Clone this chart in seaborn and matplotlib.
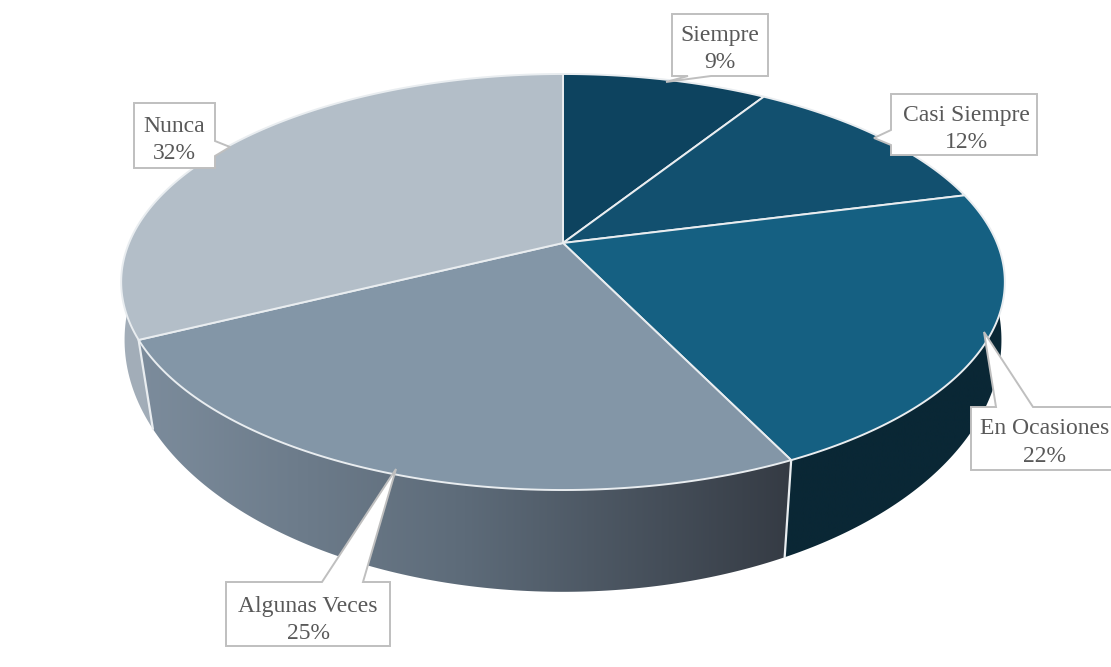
import matplotlib
matplotlib.use("Agg")
import matplotlib.pyplot as plt
from matplotlib.patches import Polygon
import numpy as np
import seaborn as sns

# chart data, clockwise from 12 o'clock
categories = ["Siempre", "Casi Siempre", "En Ocasiones", "Algunas Veces", "Nunca"]
values = [9.0, 12.0, 21.8, 24.9, 32.3]

top_colors = ["#0d435f", "#12506f", "#156082", "#8396a7", "#b3bec8"]
# wall gradients, left to right
wall_colors = [
    ["#0a2735", "#0a2735"],
    ["#0a2735", "#0a2735"],
    ["#0a2735", "#0a2735"],
    ["#7c8c9c", "#5d6b79", "#353b44"],
    ["#a3aeb9", "#8f9ba7"],
]

# callout layout: box (x0, x1, y0, y1), pointer tip, pointer base, text centre x and baselines
callouts = {
    "Siempre": dict(box=(672, 768, 14, 76), tip=(666, 82), base=[(711, 76), (688, 76)],
                    side="bottom", text=(720, 41, 68)),
    "Casi Siempre": dict(box=(891, 1037, 94, 155), tip=(874, 138), base=[(891, 130), (891, 145)],
                         side="left", text=(966, 121, 148)),
    "En Ocasiones": dict(box=(971, 1113, 407, 470), tip=(984, 332), base=[(996, 407), (1033, 407)],
                         side="top", text=(1045, 434, 462)),
    "Algunas Veces": dict(box=(226, 390, 582, 646), tip=(396, 469), base=[(322, 582), (363, 582)],
                          side="top", text=(308, 612, 639)),
    "Nunca": dict(box=(134, 215, 103, 168), tip=(230, 147), base=[(215, 141), (215, 156)],
                  side="right", text=(174, 132, 159)),
}

sns.set_theme(style="white")
plt.rcParams['font.family'] = ['Liberation Serif', 'DejaVu Serif']

# perspective of the pie disc
CX, CY = 563, 243


def top_ring(theta):
    w = 1 + 0.1875 * np.cos(theta)
    return CX + 434 * np.sin(theta) / w, CY - 200.7 * np.cos(theta) / w


def low_ring(theta):
    t = theta - np.radians(1)
    w = 1 + 0.125 * np.cos(t)
    return CX + 435 * np.sin(t) / w, 308.4 - 248 * np.cos(t) / w


fig = plt.figure(figsize=(11.11, 6.67), dpi=100)
ax = fig.add_axes([0, 0, 1, 1])

edges = np.radians(np.cumsum([0] + values) * 3.6)
line_col = "#e9edf0"

# side walls first, the top face covers the hidden back part
for i in range(len(values)):
    t = np.linspace(edges[i], edges[i + 1], 120)
    x1, y1 = top_ring(t)
    x2, y2 = low_ring(t)
    pts = np.column_stack([np.r_[x1, x2[::-1]], np.r_[y1, y2[::-1]]])
    cmap = sns.blend_palette(wall_colors[i], as_cmap=True)
    grad = np.linspace(0, 1, 256).reshape(1, -1)
    im = ax.imshow(grad, cmap=cmap, aspect="auto", interpolation="bilinear",
                   extent=[pts[:, 0].min(), pts[:, 0].max(), pts[:, 1].max(), pts[:, 1].min()])
    clip = Polygon(pts, closed=True, transform=ax.transData)
    im.set_clip_path(clip)

# white seams between the walls
for e in edges[3:5]:
    x1, y1 = top_ring(e)
    x2, y2 = low_ring(e)
    ax.plot([x1, x2], [y1, y2], color=line_col, lw=1.6, zorder=3)

# top face
for i in range(len(values)):
    t = np.linspace(edges[i], edges[i + 1], 120)
    x, y = top_ring(t)
    pts = np.column_stack([np.r_[CX, x], np.r_[CY, y]])
    ax.add_patch(Polygon(pts, closed=True, facecolor=top_colors[i], edgecolor=line_col,
                         lw=1.4, joinstyle="round", zorder=4))

# callout labels
for name, val in zip(categories, values):
    c = callouts[name]
    x0, x1, y0, y1 = c["box"]
    b = c["base"]
    if c["side"] == "bottom":
        outline = [(x0, y0), (x1, y0), (x1, y1), b[0], c["tip"], b[1], (x0, y1)]
    elif c["side"] == "left":
        outline = [(x0, y0), (x1, y0), (x1, y1), (x0, y1), b[1], c["tip"], b[0]]
    elif c["side"] == "top":
        outline = [(x0, y0), b[0], c["tip"], b[1], (x1, y0), (x1, y1), (x0, y1)]
    else:
        outline = [(x0, y0), (x1, y0), b[0], c["tip"], b[1], (x1, y1), (x0, y1)]
    ax.add_patch(Polygon(outline, closed=True, facecolor="white", edgecolor="#bfbfbf",
                         lw=1.4, zorder=5, clip_on=True))
    tx, ty1, ty2 = c["text"]
    ax.text(tx, ty1, name, ha="center", va="baseline", fontsize=17, color="#595959", zorder=6)
    ax.text(tx, ty2, f"{round(val)}%", ha="center", va="baseline", fontsize=17, color="#595959", zorder=6)

ax.set_xlim(0, 1111)
ax.set_ylim(667, 0)
ax.axis("off")

fig.savefig("out.png", dpi=100)
